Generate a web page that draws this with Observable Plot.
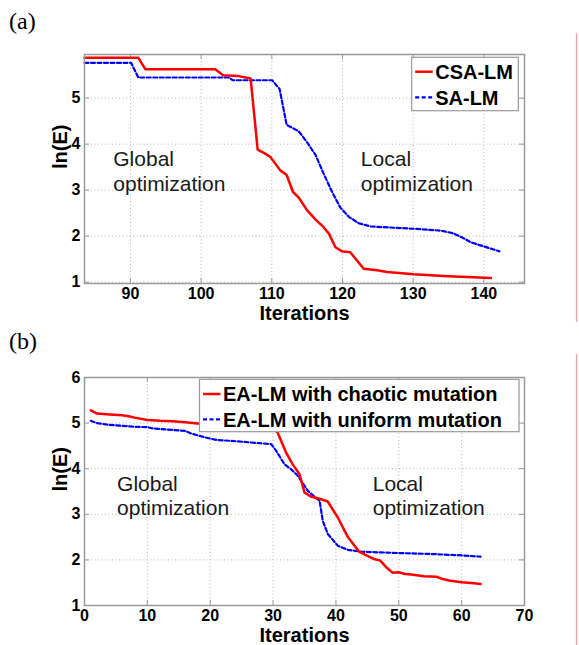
<!DOCTYPE html>
<html>
<head>
<meta charset="utf-8">
<script src="https://cdn.jsdelivr.net/npm/d3@7"></script>
<script src="https://cdn.jsdelivr.net/npm/@observablehq/plot@0.6"></script>
<style>
  html, body { margin: 0; padding: 0; background: #ffffff; }
  #wrap { position: relative; width: 579px; height: 645px; overflow: hidden; background: #ffffff; }
  #pa, #pb, #ov { position: absolute; left: 0; }
  #pa { top: 0; }
  #pb { top: 320px; }
  #ov { top: 0; pointer-events: none; }
</style>
</head>
<body>
<div id="wrap">
  <div id="pa"></div>
  <div id="pb"></div>
  <svg id="ov" width="579" height="645"></svg>
</div>
<script>
// ---------- Panel (a) data ----------
const aXTicks = [90, 100, 110, 120, 130, 140];
const aYTicks = [1, 2, 3, 4, 5];
const csaX = [83.5, 91.1, 92.1, 102.0, 103.1, 105.3, 107.0, 108.0, 109.0, 109.8, 111.2, 112.1, 113.0, 113.8, 115.0, 116.2, 117.3, 118.1, 119.0, 119.9, 121.1, 123.0, 124.9, 126.3, 130.1, 135.0, 141.0];
const csaY = [5.88, 5.88, 5.63, 5.63, 5.50, 5.48, 5.43, 3.88, 3.80, 3.72, 3.43, 3.33, 2.96, 2.84, 2.56, 2.36, 2.20, 2.05, 1.76, 1.67, 1.65, 1.29, 1.26, 1.22, 1.17, 1.13, 1.09];
const saX = [83.5, 90.1, 91.1, 103.9, 104.5, 110.05, 111.1, 112.1, 113.8, 115.0, 116.2, 117.3, 118.5, 119.7, 120.9, 122.3, 124.0, 130.1, 133.9, 135.7, 137.2, 138.1, 139.5, 142.2];
const saY = [5.77, 5.77, 5.45, 5.45, 5.39, 5.39, 5.20, 4.42, 4.28, 4.04, 3.76, 3.37, 2.97, 2.62, 2.42, 2.28, 2.21, 2.16, 2.12, 2.06, 1.95, 1.87, 1.80, 1.67];
const aNotes = [
  {x: 87.57, y: 2.99, text: "Global\noptimization"},
  {x: 122.6, y: 2.99, text: "Local\noptimization"}
];
const aLegend = ["CSA-LM", "SA-LM"];

// ---------- Panel (b) data ----------
const bXTicks = [0, 10, 20, 30, 40, 50, 60, 70];
const bYTicks = [1, 2, 3, 4, 5, 6];
const chaoticX = [1, 2, 4, 6, 7, 8, 10, 12, 14, 16, 18, 20, 24, 28, 30, 30.7, 32.05, 33.1, 34.2, 35.0, 36.0, 37.4, 38.7, 40.3, 41.9, 43.7, 45, 46, 47, 48, 49, 50, 51, 52, 54, 56, 57, 58, 60, 62, 63];
const chaoticY = [5.28, 5.21, 5.19, 5.17, 5.15, 5.12, 5.07, 5.05, 5.04, 5.02, 4.99, 4.96, 4.93, 4.90, 4.86, 4.80, 4.36, 4.10, 3.88, 3.48, 3.39, 3.34, 3.28, 2.93, 2.50, 2.18, 2.09, 2.02, 1.99, 1.84, 1.72, 1.73, 1.69, 1.68, 1.64, 1.63, 1.58, 1.55, 1.51, 1.49, 1.47];
const uniformX = [1, 2, 4, 6, 8, 10, 11, 14, 16, 17, 18, 20, 21, 23.3, 29.7, 30.5, 31.8, 32.85, 33.9, 35.5, 36.8, 37.4, 37.9, 38.7, 40.3, 41.9, 44, 50, 55, 60, 63];
const uniformY = [5.05, 5.00, 4.96, 4.94, 4.92, 4.91, 4.88, 4.85, 4.83, 4.77, 4.73, 4.66, 4.63, 4.61, 4.54, 4.39, 4.10, 3.99, 3.85, 3.52, 3.36, 3.30, 2.86, 2.57, 2.31, 2.22, 2.18, 2.15, 2.13, 2.10, 2.07];
const bNotes = [
  {x: 5.18, y: 2.99, text: "Global\noptimization"},
  {x: 45.85, y: 2.99, text: "Local\noptimization"}
];
const bLegend = ["EA-LM with chaotic mutation", "EA-LM with uniform mutation"];

const panelLabels = ["(a)", "(b)"];
const xLabel = "Iterations";
const yLabel = "ln(E)";

// ---------- helpers ----------
const zip = (xs, ys) => xs.map((x, i) => ({x, y: ys[i]}));
const FONT = "Liberation Sans, Arial, sans-serif";

function panel({height, marginTop, marginBottom, xDomain, yDomain, xTicks, yTicks, red, blue, notes}) {
  const marginLeft = 84, marginRight = 55, width = 579;
  const innerH = height - marginTop - marginBottom;
  const innerW = width - marginLeft - marginRight;
  const tickLen = 5;
  const frameColor = "#9a9a9a";
  return Plot.plot({
    width, height, marginLeft, marginRight, marginTop, marginBottom,
    style: {fontFamily: FONT, fontSize: "16px", fontWeight: "bold", background: "transparent", color: "#000", overflow: "visible"},
    x: {domain: xDomain},
    y: {domain: yDomain},
    marks: [
      Plot.gridX(xTicks, {stroke: "#b8b8b8", strokeOpacity: 1, strokeDasharray: "1,2.5", strokeWidth: 1}),
      Plot.gridY(yTicks, {stroke: "#b8b8b8", strokeOpacity: 1, strokeDasharray: "1,2.5", strokeWidth: 1}),
      Plot.tickX(xTicks, {x: d => d, insetTop: innerH - tickLen, stroke: frameColor, strokeWidth: 1}),
      Plot.tickX(xTicks, {x: d => d, insetBottom: innerH - tickLen, stroke: frameColor, strokeWidth: 1}),
      Plot.tickY(yTicks, {y: d => d, insetRight: innerW - tickLen, stroke: frameColor, strokeWidth: 1}),
      Plot.tickY(yTicks, {y: d => d, insetLeft: innerW - tickLen, stroke: frameColor, strokeWidth: 1}),
      Plot.axisX(xTicks, {tickSize: 0, tickPadding: 4, label: null, fontSize: 16, fontWeight: "bold", fill: "#000"}),
      Plot.axisY(yTicks, {tickSize: 0, tickPadding: 4, label: null, fontSize: 16, fontWeight: "bold", fill: "#000"}),
      Plot.text(notes, {x: "x", y: "y", text: "text", textAnchor: "start", lineAnchor: "bottom", lineHeight: 1.15, fontSize: 21, fontWeight: "normal", fill: "#1a1a1a"}),
      Plot.line(blue, {x: "x", y: "y", stroke: "#0000ff", strokeWidth: 2.2, strokeDasharray: "4,2.5"}),
      Plot.line(red, {x: "x", y: "y", stroke: "#ff0000", strokeWidth: 2.5}),
      Plot.frame({stroke: frameColor, strokeWidth: 1.5}),
      Plot.text([xLabel], {frameAnchor: "bottom", dy: 36, lineAnchor: "bottom", fontSize: 20, fontWeight: "bold", fill: "#000"}),
      Plot.text([yLabel], {frameAnchor: "left", dx: -18, rotate: -90, lineAnchor: "bottom", fontSize: 20, fontWeight: "bold", fill: "#000"})
    ]
  });
}

document.getElementById("pa").appendChild(panel({
  height: 320, marginTop: 54, marginBottom: 37,
  xDomain: [83.5, 145.75], yDomain: [0.97, 5.95],
  xTicks: aXTicks, yTicks: aYTicks,
  red: zip(csaX, csaY), blue: zip(saX, saY), notes: aNotes
}));

document.getElementById("pb").appendChild(panel({
  height: 325, marginTop: 57, marginBottom: 40,
  xDomain: [0, 70], yDomain: [1, 6],
  xTicks: bXTicks, yTicks: bYTicks,
  red: zip(chaoticX, chaoticY), blue: zip(uniformX, uniformY), notes: bNotes
}));

// ---------- overlay: panel letters, legends, side rule ----------
const ov = d3.select("#ov");
[[33, 322], [354, 645]].forEach(([y1, y2]) => {
  ov.append("line").attr("x1", 576.5).attr("x2", 576.5).attr("y1", y1).attr("y2", y2)
    .attr("stroke", "#f3a0a0").attr("stroke-width", 1.3);
});
[[9, 28.5], [9, 348.5]].forEach(([x, y], i) => {
  ov.append("text").attr("x", x).attr("y", y).text(panelLabels[i])
    .attr("font-family", "Liberation Serif, Times New Roman, serif").attr("font-size", 24).attr("fill", "#000");
});
function legend(box, rows, labels) {
  const g = ov.append("g");
  g.append("rect").attr("x", box.x).attr("y", box.y).attr("width", box.w).attr("height", box.h)
    .attr("fill", "#fff").attr("stroke", "#9a9a9a").attr("stroke-width", 1.2);
  rows.forEach((r, i) => {
    g.append("line").attr("x1", box.x + 3.5).attr("x2", box.x + 21).attr("y1", r.ly).attr("y2", r.ly)
      .attr("stroke", i === 0 ? "#ff0000" : "#0000ff").attr("stroke-width", i === 0 ? 2.5 : 2.2)
      .attr("stroke-dasharray", i === 0 ? null : "4,2.5");
    g.append("text").attr("x", box.x + 23.5).attr("y", r.ty).text(labels[i])
      .attr("font-family", FONT).attr("font-weight", "bold").attr("font-size", 20).attr("fill", "#000");
  });
}
legend({x: 411.7, y: 57.3, w: 106.6, h: 53.4}, [{ly: 71.7, ty: 79.3}, {ly: 97.3, ty: 105}], aLegend);
legend({x: 199.5, y: 379.3, w: 319.5, h: 52.4}, [{ly: 394, ty: 400.7}, {ly: 419.3, ty: 426.7}], bLegend);
</script>
</body>
</html>
